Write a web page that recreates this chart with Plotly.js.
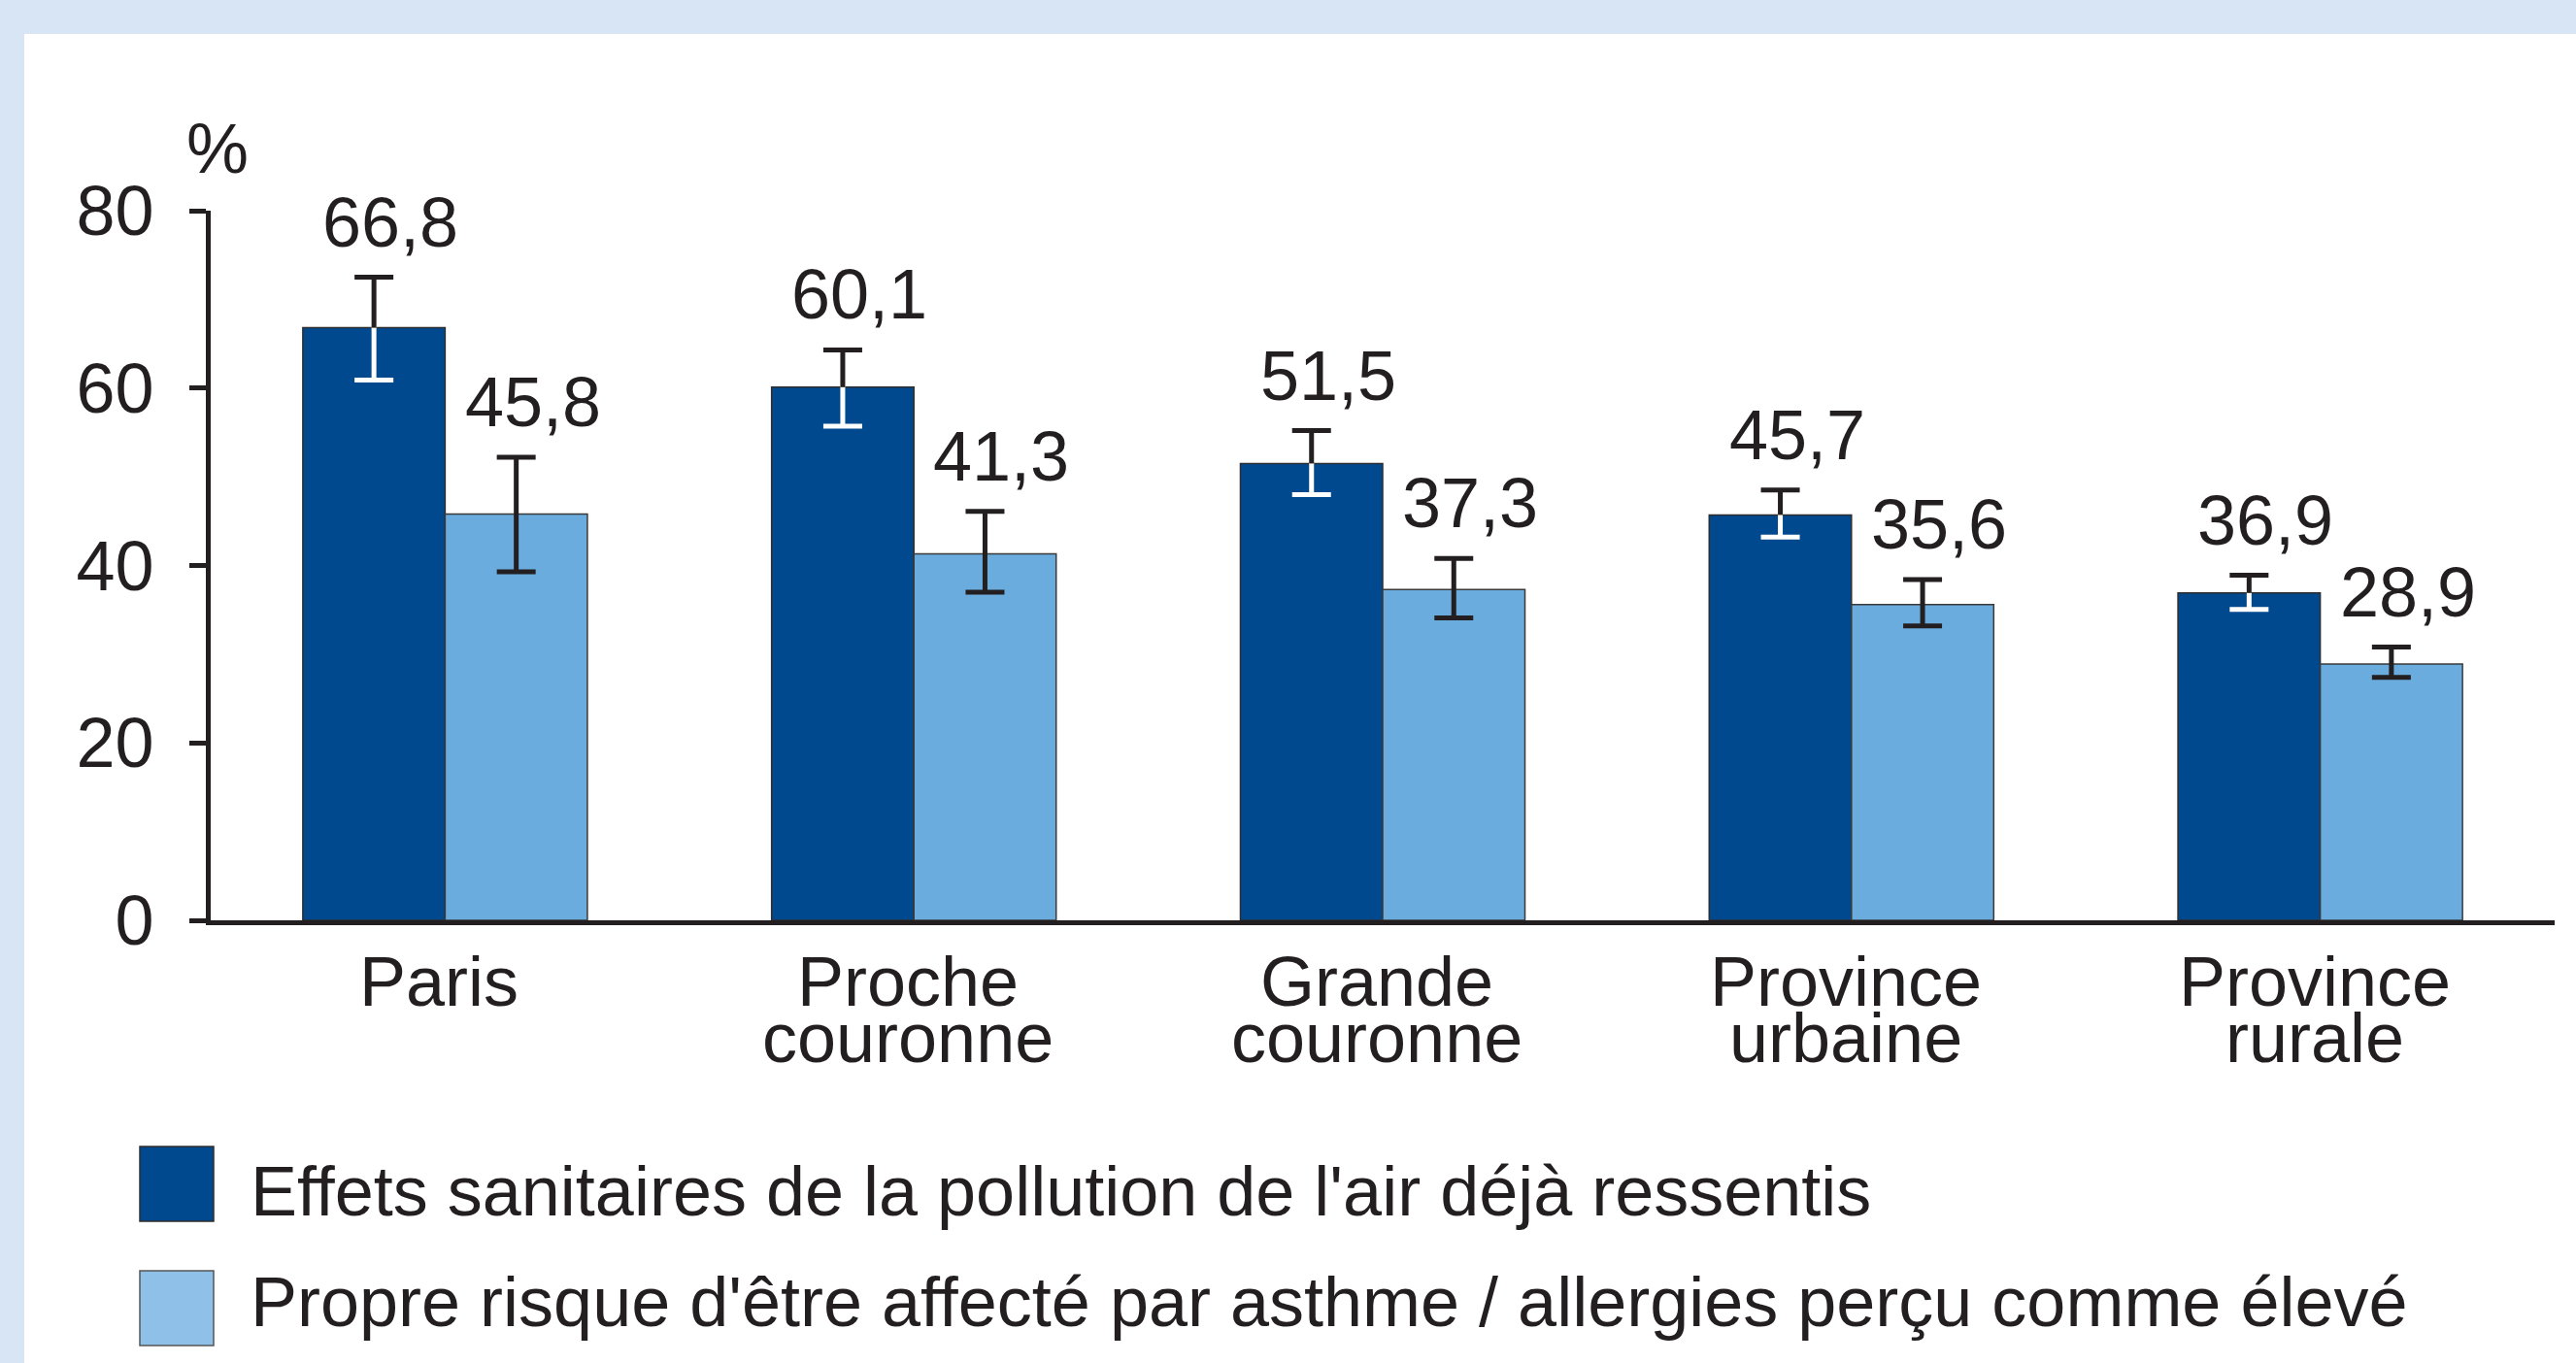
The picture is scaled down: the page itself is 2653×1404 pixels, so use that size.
<!DOCTYPE html>
<html><head><meta charset="utf-8">
<script src="https://cdn.plot.ly/plotly-3.0.1.min.js"></script>
<style>html,body{margin:0;padding:0;background:#fff;} #chart{width:2653px;height:1404px;}</style>
</head><body><div id="chart"></div>
<script>
// ---- data ----
const categories = ['Paris', 'Proche couronne', 'Grande couronne', 'Province urbaine', 'Province rurale'];
const labelLine1 = ['Paris', 'Proche', 'Grande', 'Province', 'Province'];
const labelLine2 = ['', 'couronne', 'couronne', 'urbaine', 'rurale'];
const seriesNames = ["Effets sanitaires de la pollution de l'air déjà ressentis",
                     "Propre risque d'être affecté par asthme / allergies perçu comme élevé"];
const effets = [66.8, 60.1, 51.5, 45.7, 36.9];
const effetsErrUp = [5.7, 4.2, 3.7, 2.8, 2.0];
const effetsErrDown = [5.9, 4.4, 3.5, 2.5, 1.85];
const risque = [45.8, 41.3, 37.3, 35.6, 28.9];
const risqueErrUp = [6.4, 4.8, 3.5, 2.8, 1.9];
const risqueErrDown = [6.5, 4.3, 3.2, 2.4, 1.5];
const yTickVals = [0, 20, 40, 60, 80];
const yTickText = ['0', '20', '40', '60', '80'];
const yUnit = '%';

// ---- style ----
const FONT = 'Liberation Sans, Arial, Helvetica, sans-serif';
const INK = '#231f20';
const DARK = '#00498f';
const LIGHT = '#6aacdd';
const LIGHT_KEY = '#8fc0e8';
const BAND = '#d7e5f4';
const FS = 72;
const W = 2653, H = 1404;
const M = {l: 217, r: 22, t: 217, b: 456};
const PW = W - M.l - M.r, PH = H - M.t - M.b;
const px2x = p => (p - M.l) / PW;
const px2y = p => (H - M.b - p) / PH;
const BARGAP = 0.393;
const OFF = (1 - BARGAP) / 4;
const CAP = 20;
const capUnits = CAP / (PW / categories.length);
const fmt = v => v.toFixed(1).replace('.', ',');

const traces = [
  {type: 'bar', x: categories, y: effets, name: seriesNames[0], showlegend: false, hoverinfo: 'skip',
   marker: {color: DARK, line: {color: '#2e2e2e', width: 1.5}},
   error_y: {type: 'data', symmetric: false, array: effetsErrUp, arrayminus: effetsErrDown,
             color: '#ffffff', thickness: 5, width: CAP}},
  {type: 'bar', x: categories, y: risque, name: seriesNames[1], showlegend: false, hoverinfo: 'skip',
   marker: {color: LIGHT, line: {color: '#3a3a3a', width: 1.5}},
   error_y: {type: 'data', symmetric: false, array: risqueErrUp, arrayminus: risqueErrDown,
             color: INK, thickness: 5, width: CAP}},
  // black upper part of the dark bars' error bars (outside the bar)
  {type: 'scatter', xaxis: 'x2', yaxis: 'y', mode: 'markers', showlegend: false, hoverinfo: 'skip',
   x: categories.map((c, i) => i - OFF), y: effets.map((v, i) => v + effetsErrUp[i]),
   marker: {size: 1, opacity: 0},
   error_y: {type: 'data', symmetric: false, array: effets.map(() => 0), arrayminus: effetsErrUp,
             color: INK, thickness: 5, width: 0},
   error_x: {type: 'constant', value: capUnits, color: INK, thickness: 5, width: 0}}
];

const annotations = [];
// value labels
effets.forEach((v, i) => annotations.push({xref: 'x2', yref: 'y', x: i - OFF, y: v + effetsErrUp[i],
  text: fmt(v), showarrow: false, yanchor: 'bottom', xanchor: 'center', yshift: 15, xshift: 17,
  font: {size: FS, color: INK, family: FONT}}));
risque.forEach((v, i) => annotations.push({xref: 'x2', yref: 'y', x: i + OFF, y: v + risqueErrUp[i],
  text: fmt(v), showarrow: false, yanchor: 'bottom', xanchor: 'center', yshift: 15, xshift: 17,
  font: {size: FS, color: INK, family: FONT}}));
// category labels (two tight lines)
categories.forEach((c, i) => {
  annotations.push({xref: 'x', yref: 'paper', x: c, y: px2y(1037 + 16), yanchor: 'bottom', xanchor: 'center',
    xshift: -6, text: labelLine1[i], showarrow: false, font: {size: FS, color: INK, family: FONT}});
  if (labelLine2[i]) annotations.push({xref: 'x', yref: 'paper', x: c, y: px2y(1095 + 16), yanchor: 'bottom',
    xanchor: 'center', xshift: -6, text: labelLine2[i], showarrow: false, font: {size: FS, color: INK, family: FONT}});
});
// unit
annotations.push({xref: 'paper', yref: 'paper', x: px2x(224), y: px2y(195), xanchor: 'center', yanchor: 'bottom',
  text: yUnit, showarrow: false, font: {size: FS, color: INK, family: FONT}});
// legend texts
annotations.push({xref: 'paper', yref: 'paper', x: px2x(256), y: px2y(1253 + 16), xanchor: 'left', yanchor: 'bottom',
  text: seriesNames[0], showarrow: false, font: {size: FS, color: INK, family: FONT}});
annotations.push({xref: 'paper', yref: 'paper', x: px2x(256), y: px2y(1367 + 16), xanchor: 'left', yanchor: 'bottom',
  text: seriesNames[1], showarrow: false, font: {size: FS, color: INK, family: FONT}});

const shapes = [
  {type: 'rect', layer: 'below', xref: 'paper', yref: 'paper', x0: px2x(25), x1: px2x(W + 20),
   y0: px2y(H + 20), y1: px2y(35), fillcolor: '#ffffff', line: {width: 0}},
  {type: 'rect', xref: 'paper', yref: 'paper', x0: px2x(144), x1: px2x(220), y0: px2y(1258), y1: px2y(1181),
   fillcolor: DARK, line: {color: '#2e2e2e', width: 1.5}},
  {type: 'rect', xref: 'paper', yref: 'paper', x0: px2x(144), x1: px2x(220), y0: px2y(1386), y1: px2y(1309),
   fillcolor: LIGHT_KEY, line: {color: '#555555', width: 1.5}},
  {type: 'line', xref: 'paper', yref: 'y', xsizemode: 'pixel', xanchor: 0, x0: -2.5, x1: -2.5,
   ysizemode: 'pixel', yanchor: 0, y0: 0, y1: -20, line: {color: INK, width: 5}}
];

const layout = {
  width: W, height: H, autosize: false,
  margin: {l: M.l, r: M.r, t: M.t, b: M.b, pad: 0},
  paper_bgcolor: BAND, plot_bgcolor: 'rgba(0,0,0,0)',
  barmode: 'group', bargap: BARGAP, bargroupgap: 0,
  font: {family: FONT, color: INK, size: FS},
  xaxis: {type: 'category', range: [-0.5, 4.5], showline: true, linewidth: 5, linecolor: INK,
          ticks: '', showticklabels: false, showgrid: false, zeroline: false, fixedrange: true},
  xaxis2: {overlaying: 'x', range: [-0.5, 4.5], visible: false, fixedrange: true},
  yaxis: {range: [0, 80], tickmode: 'array', tickvals: yTickVals, ticktext: yTickText,
          ticks: 'outside', ticklen: 17, tickwidth: 5, tickcolor: INK, ticklabelstandoff: 22,
          showline: true, linewidth: 5, linecolor: INK, showgrid: false, zeroline: false,
          tickfont: {size: FS, color: INK, family: FONT}, fixedrange: true},
  annotations: annotations,
  shapes: shapes,
  showlegend: false
};

Plotly.newPlot('chart', traces, layout, {displayModeBar: false, staticPlot: true});
</script>
</body></html>
